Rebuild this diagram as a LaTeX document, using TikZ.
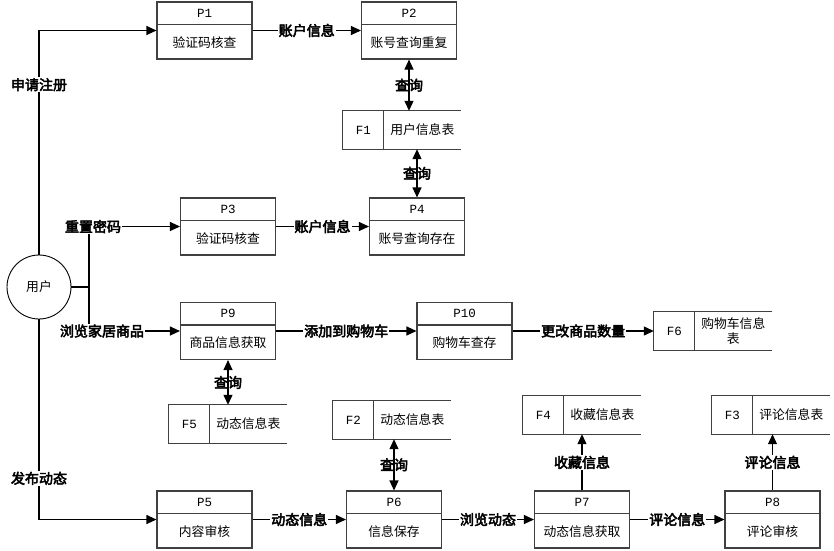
\documentclass[tikz,border=0pt]{standalone}
\usepackage{fontspec}
\setmainfont{Noto Sans CJK SC}
\newfontfamily\cjkb[FakeBold=3.5]{Noto Sans CJK SC}
\newfontfamily\idfont{Liberation Mono}
\usetikzlibrary{arrows.meta}
\tikzset{
  boxline/.style={draw=black!75, line width=1.1pt},
  proc/.style={boxline, rectangle, minimum width=95pt, minimum height=57pt, inner sep=0pt},
  store/.style={rectangle, minimum width=118pt, minimum height=38pt, inner sep=0pt},
  conn/.style={line width=1.1pt, black},
  flow/.style={conn, -{Triangle[length=10pt,width=9pt]}},
  biflow/.style={conn, {Triangle[length=10pt,width=9pt]}-{Triangle[length=10pt,width=9pt]}},
  lab/.style={fill=white, inner sep=1pt, font=\cjkb\fontsize{14}{16}\selectfont},
  qlab/.style={inner sep=1pt, font=\cjkb\fontsize{14}{16}\selectfont},
  boxtext/.style={font=\fontsize{12.8}{15}\selectfont},
  idtext/.style={font=\idfont\fontsize{12.5}{14}\selectfont},
}
\newcommand\procbox[5]{%
  \node[proc] (#1) at (#2,#3) {};
  \draw[boxline] ([yshift=-23pt]#1.north west) -- ([yshift=-23pt]#1.north east);
  \node[idtext] at ([yshift=-11.5pt]#1.north) {#4};
  \node[boxtext] at ([yshift=17pt]#1.south) {#5};
}
\newcommand\datastore[5]{%
  \node[store] (#1) at (#2+59,#3+19) {};
  \draw[boxline] (#1.north east) -- (#1.north west) -- (#1.south west) -- (#1.south east);
  \draw[boxline] ([xshift=41pt]#1.north west) -- ([xshift=41pt]#1.south west);
  \node[idtext] at ([xshift=20.5pt]#1.west) {#4};
  \node[boxtext,align=center] at ([xshift=79.5pt]#1.west) {#5};
}
\begin{document}
\begin{tikzpicture}[x=1pt,y=-1pt]
\useasboundingbox[fill=white] (0,0) rectangle (834,550);

% user
\node[draw, circle, minimum size=64pt, line width=0.9pt, inner sep=0pt, boxtext] (user) at (39,287) {用户};

% processes
\procbox{P1}{204.5}{30.5}{P1}{验证码核查}
\procbox{P2}{409}{30.5}{P2}{账号查询重复}
\procbox{P3}{228}{226.5}{P3}{验证码核查}
\procbox{P4}{417}{226.5}{P4}{账号查询存在}
\procbox{P9}{228}{331}{P9}{商品信息获取}
\procbox{P10}{464.5}{331}{P10}{购物车查存}
\procbox{P5}{204.5}{519.5}{P5}{内容审核}
\procbox{P6}{394}{519.5}{P6}{信息保存}
\procbox{P7}{582}{519.5}{P7}{动态信息获取}
\procbox{P8}{772.5}{519.5}{P8}{评论审核}

% data stores
\datastore{F1}{343}{111}{F1}{用户信息表}
\datastore{F2}{333}{401}{F2}{动态信息表}
\datastore{F3}{712}{396}{F3}{评论信息表}
\datastore{F4}{523}{396}{F4}{收藏信息表}
\datastore{F5}{169}{405}{F5}{动态信息表}
\datastore{F6}{654}{312}{F6}{购物车信息\\表}

% from user
\coordinate (j) at (89,287);
\draw[conn] (user.east) -- (j);
\draw[flow] (j) |- node[lab,pos=0.5,xshift=4pt]{重置密码} (P3.west);
\draw[flow] (j) |- node[lab,pos=0.5,xshift=13pt]{浏览家居商品} (P9.west);
\draw[flow] (user.north) |- node[lab,pos=0.379]{申请注册} (P1.west);
\draw[flow] (user.south) |- node[lab,pos=0.397]{发布动态} (P5.west);

% horizontal flows
\draw[flow] (P1.east) -- node[lab]{账户信息} (P2.west);
\draw[flow] (P3.east) -- node[lab]{账户信息} (P4.west);
\draw[flow] (P9.east) -- node[lab]{添加到购物车} (P10.west);
\draw[flow] (P10.east) -- node[lab]{更改商品数量} (P10.east -| F6.west);
\draw[flow] (P5.east) -- node[lab]{动态信息} (P6.west);
\draw[flow] (P6.east) -- node[lab]{浏览动态} (P7.west);
\draw[flow] (P7.east) -- node[lab]{评论信息} (P8.west);

% vertical flows
\draw[biflow] (P2.south) -- node[qlab]{查询} (P2.south |- F1.north);
\draw[biflow] (P4.north |- F1.south) -- node[qlab]{查询} (P4.north);
\draw[biflow] (P9.south) -- node[qlab]{查询} (P9.south |- F5.north);
\draw[biflow] (P6.north) -- node[qlab]{查询} (P6.north |- F2.south);
\draw[flow] (P7.north) -- node[lab]{收藏信息} (P7.north |- F4.south);
\draw[flow] (P8.north) -- node[lab]{评论信息} (P8.north |- F3.south);
\end{tikzpicture}
\end{document}
